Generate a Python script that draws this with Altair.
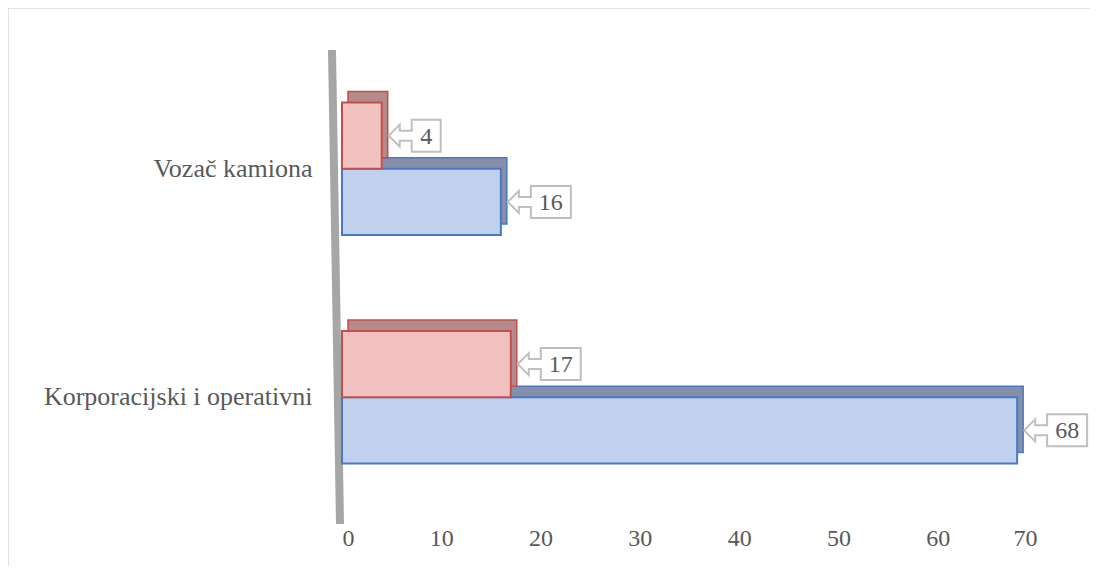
import altair as alt
import pandas as pd

categories = ["Vozač kamiona", "Korporacijski i operativni"]
series_names = ["Serija 1", "Serija 2"]
blue_values = [16, 68]
red_values = [4, 17]
x_ticks = [0, 10, 20, 30, 40, 50, 60, 70]

rows = []
for c, b, r in zip(categories, blue_values, red_values):
    rows.append({"category": c, "series": series_names[0], "value": b})
    rows.append({"category": c, "series": series_names[1], "value": r})
df = pd.DataFrame(rows)
df["label"] = df["value"].astype(str)


def callout_path(box_w):
    u = 50.0
    pts = [(7, 0), (18, -11), (18, -5), (30, -5), (30, -16), (30 + box_w, -16),
           (30 + box_w, 16), (30, 16), (30, 5), (18, 5), (18, 11)]
    return "M" + " L".join(f"{x/u:.3f},{y/u:.3f}" for x, y in pts) + " Z"


df["shape"] = df["label"].apply(lambda s: callout_path(29 if len(s) == 1 else 40))

FONT = "Liberation Serif"
TXT = "#595959"
W, H = 695, 466
P_IN, P_OUT = 0.42, 0.23
STEP = H / (len(categories) - P_IN + 2 * P_OUT)
BW = STEP * (1 - P_IN)
TOP = 11   # depth of top face
SIDE = 6   # depth of side face

is_blue = "datum.series == 'Serija 1'"

y_enc = alt.Y("category:N", sort=categories,
              scale=alt.Scale(paddingInner=P_IN, paddingOuter=P_OUT),
              axis=alt.Axis(title=None, ticks=False, domain=False, labelPadding=30,
                            labelFontSize=26, labelFont=FONT, labelColor=TXT, labelLimit=400))
yo_enc = alt.YOffset("series:N", sort=["Serija 2", "Serija 1"],
                     scale=alt.Scale(type="band", paddingInner=0, paddingOuter=0))
yo_back = alt.YOffset("series:N", sort=["Serija 2", "Serija 1"],
                      scale=alt.Scale(type="band", paddingInner=0, paddingOuter=0,
                                      range=[-TOP, BW - TOP]))
x_enc = alt.X("value:Q", scale=alt.Scale(domain=[0, 70], nice=False),
              axis=alt.Axis(values=x_ticks, grid=False, ticks=False, domain=False,
                            labelPadding=10, title=None, labelFontSize=24,
                            labelFont=FONT, labelColor=TXT))

base = alt.Chart(df)
one = alt.Data(values=[{"v": 0}])

wall = alt.Chart(one).mark_rule(
    color="#a6a6a6", strokeWidth=8, xOffset=-10, x2Offset=-2
).encode(x=alt.X("v:Q"), x2=alt.X2("v:Q"), y=alt.value(0), y2=alt.value(H + 8))

border_top = alt.Chart(one).mark_rule(color="#d9d9d9", strokeWidth=1.5).encode(
    x=alt.value(-334), x2=alt.value(760), y=alt.value(-42))
border_left = alt.Chart(one).mark_rule(color="#d9d9d9", strokeWidth=1.5).encode(
    x=alt.value(-334), y=alt.value(-42), y2=alt.value(540))

back = base.mark_bar(xOffset=SIDE, x2Offset=SIDE, strokeWidth=1.5).encode(
    x=x_enc, y=y_enc, yOffset=yo_back,
    fill=alt.condition(is_blue, alt.value("#8590a8"), alt.value("#b48a8a")),
    stroke=alt.condition(is_blue, alt.value("#4a78c2"), alt.value("#c0504d")),
)

front = base.mark_bar(strokeWidth=2).encode(
    x=x_enc, y=y_enc, yOffset=yo_enc,
    fill=alt.condition(is_blue, alt.value("#c0d1ed"), alt.value("#f1c1c0")),
    stroke=alt.condition(is_blue, alt.value("#4a78c2"), alt.value("#c0504d")),
)

callout = base.mark_point(filled=True, size=10000, fill="white", stroke="#bfbfbf",
                          strokeWidth=2, opacity=1).encode(
    x=x_enc, y=y_enc, yOffset=yo_enc,
    shape=alt.Shape("shape:N", scale=None),
)

text1 = base.transform_filter("length(datum.label) == 1").mark_text(
    dx=44.5, dy=1, align="center", baseline="middle", font=FONT, fontSize=24, color=TXT
).encode(x=x_enc, y=y_enc, yOffset=yo_enc, text="label:N")
text2 = base.transform_filter("length(datum.label) > 1").mark_text(
    dx=50, dy=1, align="center", baseline="middle", font=FONT, fontSize=24, color=TXT
).encode(x=x_enc, y=y_enc, yOffset=yo_enc, text="label:N")

front_group = alt.layer(front, callout, text1, text2)

chart = alt.layer(border_top, border_left, wall, back, front_group).resolve_scale(
    yOffset="independent"
).properties(
    width=W, height=H,
    autosize=alt.AutoSizeParams(type="none"),
    padding={"left": 334, "top": 42, "right": 53, "bottom": 50},
).configure(background="white").configure_view(strokeWidth=0, stroke="transparent")

chart.save("out.html", embed_options={"renderer": "svg", "actions": False})
